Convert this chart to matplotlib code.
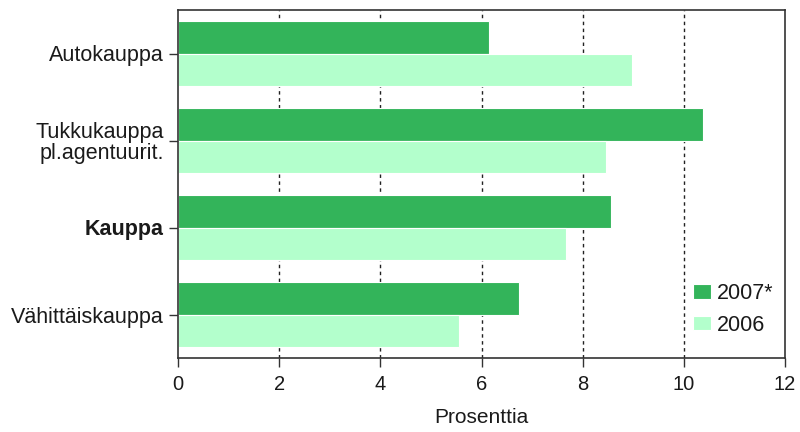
import matplotlib
matplotlib.use("Agg")
import matplotlib.pyplot as plt
import numpy as np

categories = ["Autokauppa", "Tukkukauppa\npl.agentuurit.", "Kauppa", "Vähittäiskauppa"]
values_2007 = [6.15, 10.37, 8.56, 6.75]
values_2006 = [8.98, 8.47, 7.68, 5.56]
series_labels = ["2007*", "2006"]
xticks = [0, 2, 4, 6, 8, 10, 12]

col_2007 = "#33b45a"
col_2006 = "#b3ffcc"
txt_col = "#1a1a1a"
fs = 14.5
fs_cat = 15.5

plt.rcParams["font.family"] = ["Liberation Sans", "DejaVu Sans"]

fig = plt.figure(figsize=(8, 4.32), dpi=100)
ax = fig.add_axes([178 / 800, 1 - 358 / 432, 607 / 800, 348 / 432])

y = np.arange(len(categories))
h = 0.37
ax.barh(y - h / 2, values_2007, height=h, color=col_2007, edgecolor="white",
        linewidth=0.8, label=series_labels[0], zorder=2)
ax.barh(y + h / 2, values_2006, height=h, color=col_2006, edgecolor="white",
        linewidth=0.8, label=series_labels[1], zorder=2)

ax.set_ylim(3.5, -0.5)
ax.set_xlim(0, 12)
ax.set_xticks(xticks)
ax.set_xticklabels([str(t) for t in xticks], fontsize=fs, color=txt_col)
ax.set_yticks(y)
ax.set_yticklabels(categories, fontsize=fs_cat, color=txt_col, linespacing=1.0)
ax.get_yticklabels()[2].set_fontweight("bold")

for t in xticks[1:-1]:
    ax.axvline(t, color="#222222", linestyle=(0, (2.5, 2.5)), linewidth=1, zorder=1)

ax.tick_params(axis="both", direction="out", length=6.5, width=1, color="#333333")
ax.tick_params(axis="x", pad=6)
ax.tick_params(axis="y", pad=3.5)
for s in ax.spines.values():
    s.set_color("#333333")
    s.set_linewidth(1.2)

ax.set_xlabel("Prosenttia", fontsize=15, color=txt_col, labelpad=10)

leg = ax.legend(loc="upper left", bbox_to_anchor=(0.835, 0.24), frameon=False,
                fontsize=fs_cat, handlelength=0.8, handleheight=0.65,
                handletextpad=0.3, labelspacing=0.5, borderaxespad=0)
for t in leg.get_texts():
    t.set_color(txt_col)

fig.savefig("out.png", dpi=100)
